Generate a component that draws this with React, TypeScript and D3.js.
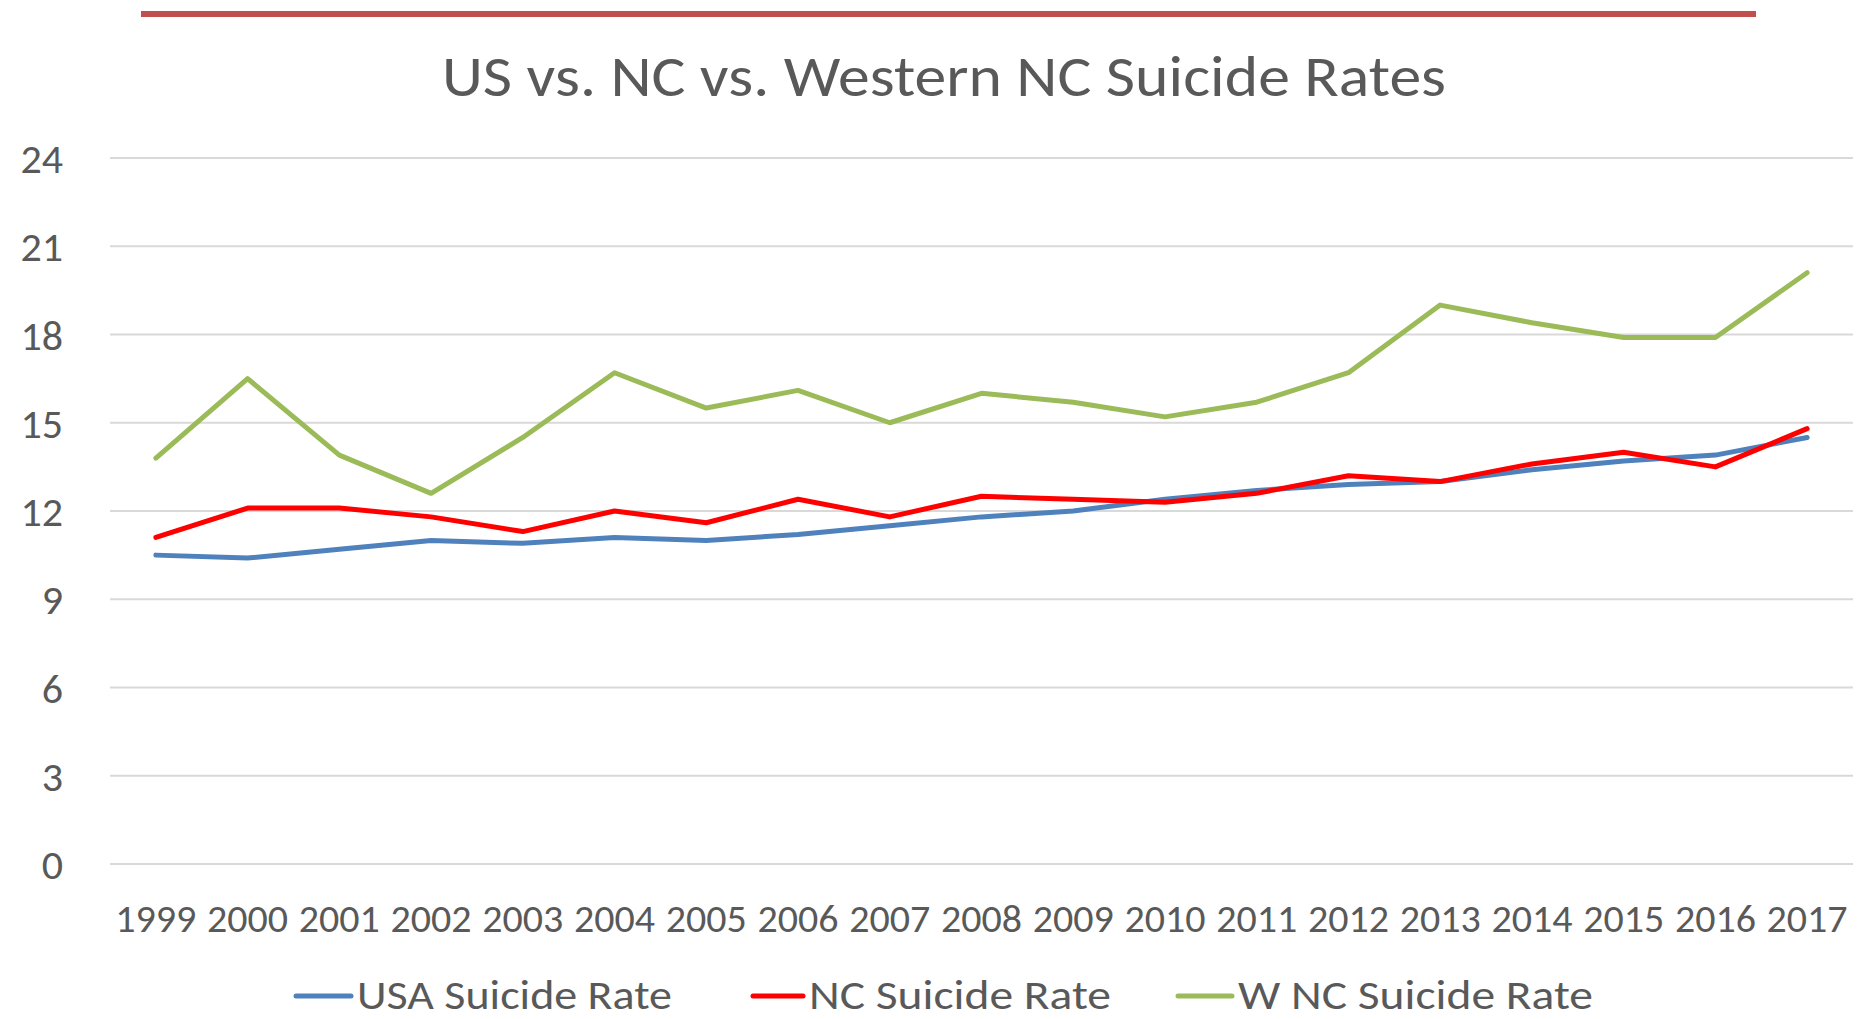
import React from "react";
import * as d3 from "d3";

const years = ["1999","2000","2001","2002","2003","2004","2005","2006","2007","2008","2009","2010","2011","2012","2013","2014","2015","2016","2017"];
const usaRate = [10.5,10.4,10.7,11.0,10.9,11.1,11.0,11.2,11.5,11.8,12.0,12.4,12.7,12.9,13.0,13.4,13.7,13.9,14.5];
const ncRate = [11.1,12.1,12.1,11.8,11.3,12.0,11.6,12.4,11.8,12.5,12.4,12.3,12.6,13.2,13.0,13.6,14.0,13.5,14.8];
const wncRate = [13.8,16.5,13.9,12.6,14.5,16.7,15.5,16.1,15.0,16.0,15.7,15.2,15.7,16.7,19.0,18.4,17.9,17.9,20.1];
const yTicks = [0,3,6,9,12,15,18,21,24];
const titleText = "US vs. NC vs. Western NC Suicide Rates";

const series = [
  { name: "USA Suicide Rate", values: usaRate, color: "#4F81BD" },
  { name: "NC Suicide Rate", values: ncRate, color: "#FF0000" },
  { name: "W NC Suicide Rate", values: wncRate, color: "#9BBB59" },
];

const legendLayout = [
  { lx1: 296, lx2: 351, tx: 357, tw: 315 },
  { lx1: 753, lx2: 803, tx: 809, tw: 302 },
  { lx1: 1178, lx2: 1232, tx: 1238, tw: 355 },
];

const FONT = "Carlito, 'Open Sans', sans-serif";
const TEXT = "#595959";

export default function App() {
  const W = 1863, H = 1019;
  const left = 110, right = 1853, top = 158, bottom = 864;
  const x = d3.scaleBand().domain(years).range([left, right]);
  const y = d3.scaleLinear().domain([0, 24]).range([bottom, top]);
  const line = d3.line<number>()
    .x((_, i) => (x(years[i]) as number) + x.bandwidth() / 2)
    .y((d) => y(d));

  return (
    <svg width={W} height={H} style={{ position: "absolute", left: 0, top: 0, display: "block", background: "#fff" }} fontFamily={FONT}>
      <rect x={141} y={11} width={1615} height={6} fill="#C0504D" />
      <text x={442} y={96} fontSize={58} fill={TEXT} textLength={1004} lengthAdjust="spacingAndGlyphs">{titleText}</text>
      {yTicks.map((t) => (
        <g key={t}>
          <line x1={left} x2={right} y1={y(t)} y2={y(t)} stroke="#D9D9D9" strokeWidth={2} />
          <text x={63} y={y(t) + 15} fontSize={42} fill={TEXT} textAnchor="end">{t}</text>
        </g>
      ))}
      {years.map((yr) => (
        <text key={yr} x={(x(yr) as number) + x.bandwidth() / 2} y={932} fontSize={38} fill={TEXT} textAnchor="middle" textLength={81} lengthAdjust="spacingAndGlyphs">{yr}</text>
      ))}
      {series.map((s) => (
        <path key={s.name} d={line(s.values) || ""} fill="none" stroke={s.color} strokeWidth={5} strokeLinejoin="round" strokeLinecap="round" />
      ))}
      {series.map((s, i) => (
        <g key={s.name}>
          <line x1={legendLayout[i].lx1} x2={legendLayout[i].lx2} y1={996} y2={996} stroke={s.color} strokeWidth={5} strokeLinecap="round" />
          <text x={legendLayout[i].tx} y={1009} fontSize={41} fill={TEXT} textLength={legendLayout[i].tw} lengthAdjust="spacingAndGlyphs">{s.name}</text>
        </g>
      ))}
    </svg>
  );
}
